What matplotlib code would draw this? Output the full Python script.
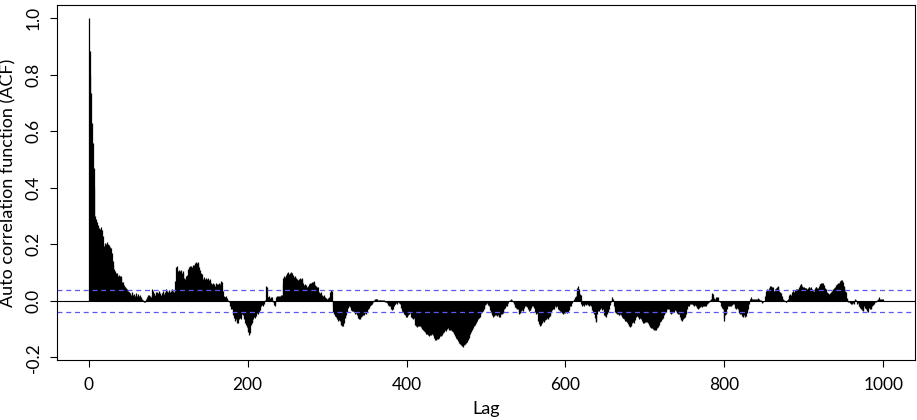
import numpy as np
import matplotlib
matplotlib.use("Agg")
import matplotlib.pyplot as plt

# ACF values, one per lag (0..1000)
acf_vals = [
    1.000, 0.885, 0.800, 0.735, 0.630, 0.560, 0.470, 0.400, 0.300, 0.290, 0.280, 0.262, 0.268, 0.258, 0.255, 0.262, 0.250, 0.252, 0.230, 0.195,
    0.205, 0.198, 0.202, 0.207, 0.200, 0.195, 0.198, 0.190, 0.185, 0.170, 0.140, 0.128, 0.112, 0.104, 0.100, 0.098, 0.092, 0.088, 0.090, 0.086,
    0.088, 0.080, 0.068, 0.066, 0.055, 0.050, 0.048, 0.044, 0.042, 0.034, 0.030, 0.032, 0.028, 0.022, 0.030, 0.026, 0.020, 0.024, 0.018, 0.028,
    0.022, 0.016, 0.025, 0.018, 0.014, 0.020, 0.012, 0.008, 0.004, 0.000, -0.004, -0.006, 0.006, 0.014, 0.020, 0.016, 0.022, 0.018, 0.012, 0.020,
    0.040, 0.036, 0.028, 0.022, 0.030, 0.018, 0.032, 0.026, 0.024, 0.034, 0.028, 0.020, 0.026, 0.036, 0.030, 0.024, 0.032, 0.040, 0.034, 0.026,
    0.032, 0.038, 0.030, 0.028, 0.036, 0.042, 0.034, 0.030, 0.040, 0.070, 0.118, 0.122, 0.106, 0.110, 0.102, 0.104, 0.108, 0.100, 0.106, 0.098,
    0.082, 0.078, 0.086, 0.080, 0.092, 0.112, 0.118, 0.122, 0.115, 0.124, 0.120, 0.126, 0.118, 0.128, 0.132, 0.136, 0.134, 0.137, 0.130, 0.118,
    0.108, 0.100, 0.096, 0.082, 0.078, 0.085, 0.076, 0.080, 0.074, 0.078, 0.082, 0.072, 0.078, 0.070, 0.062, 0.058, 0.064, 0.056, 0.060, 0.054,
    0.062, 0.058, 0.055, 0.060, 0.064, 0.058, 0.066, 0.070, 0.068, 0.035, 0.018, 0.014, 0.012, 0.016, 0.010, 0.004, 0.000, -0.006, -0.020, -0.028,
    -0.030, -0.026, -0.050, -0.062, -0.070, -0.066, -0.072, -0.080, -0.078, -0.064, -0.060, -0.066, -0.052, -0.046, -0.050, -0.058, -0.066, -0.078, -0.084, -0.092,
    -0.104, -0.112, -0.120, -0.115, -0.086, -0.080, -0.074, -0.064, -0.058, -0.062, -0.054, -0.046, -0.042, -0.048, -0.040, -0.034, -0.024, -0.020, -0.016, -0.018,
    -0.010, 0.000, 0.004, 0.053, 0.048, 0.014, 0.012, 0.016, 0.010, 0.014, 0.008, 0.012, -0.005, -0.015, -0.017, -0.010, 0.012, 0.016, 0.018, 0.014,
    0.018, 0.016, 0.020, 0.022, 0.060, 0.080, 0.088, 0.084, 0.092, 0.100, 0.096, 0.102, 0.094, 0.098, 0.100, 0.103, 0.098, 0.092, 0.085, 0.088,
    0.084, 0.080, 0.078, 0.075, 0.078, 0.074, 0.080, 0.076, 0.080, 0.072, 0.064, 0.055, 0.058, 0.052, 0.056, 0.050, 0.054, 0.058, 0.062, 0.060,
    0.064, 0.066, 0.068, 0.070, 0.062, 0.056, 0.054, 0.050, 0.048, 0.032, 0.030, 0.028, 0.030, 0.020, 0.018, 0.016, 0.020, 0.012, 0.008, 0.010,
    0.006, 0.010, 0.012, 0.008, 0.030, 0.037, 0.034, -0.020, -0.040, -0.048, -0.054, -0.058, -0.056, -0.066, -0.070, -0.068, -0.072, -0.082, -0.086, -0.088,
    -0.088, -0.080, -0.062, -0.056, -0.050, -0.040, -0.024, -0.018, -0.016, -0.022, -0.032, -0.035, -0.030, -0.036, -0.040, -0.046, -0.044, -0.048, -0.052, -0.060,
    -0.064, -0.062, -0.064, -0.056, -0.054, -0.050, -0.052, -0.046, -0.044, -0.048, -0.040, -0.030, -0.028, -0.026, -0.020, -0.014, -0.010, -0.008, -0.004, 0.002,
    0.006, 0.007, 0.005, 0.008, 0.003, 0.002, 0.004, 0.003, 0.001, 0.004, 0.002, 0.003, 0.000, -0.004, -0.006, -0.005, -0.008, -0.014, -0.018, -0.020,
    -0.024, -0.030, -0.033, -0.028, -0.020, -0.012, -0.010, -0.008, -0.012, -0.006, -0.008, -0.004, -0.010, -0.024, -0.036, -0.040, -0.038, -0.046, -0.052, -0.057,
    -0.055, -0.057, -0.050, -0.046, -0.044, -0.048, -0.056, -0.062, -0.064, -0.060, -0.072, -0.084, -0.090, -0.093, -0.088, -0.086, -0.090, -0.088, -0.094, -0.098,
    -0.100, -0.104, -0.108, -0.112, -0.117, -0.114, -0.118, -0.120, -0.123, -0.122, -0.118, -0.120, -0.116, -0.122, -0.124, -0.132, -0.138, -0.140, -0.136, -0.134,
    -0.128, -0.130, -0.126, -0.124, -0.120, -0.118, -0.114, -0.110, -0.105, -0.102, -0.106, -0.100, -0.098, -0.102, -0.100, -0.104, -0.105, -0.108, -0.110, -0.106,
    -0.118, -0.126, -0.130, -0.135, -0.134, -0.142, -0.148, -0.152, -0.150, -0.156, -0.160, -0.163, -0.158, -0.152, -0.154, -0.150, -0.146, -0.140, -0.130, -0.123,
    -0.118, -0.110, -0.104, -0.100, -0.096, -0.088, -0.084, -0.080, -0.076, -0.072, -0.064, -0.060, -0.057, -0.050, -0.044, -0.040, -0.036, -0.030, -0.024, -0.016,
    -0.012, -0.008, -0.010, -0.016, -0.020, -0.032, -0.040, -0.048, -0.052, -0.057, -0.055, -0.050, -0.052, -0.048, -0.054, -0.052, -0.056, -0.057, -0.052, -0.046,
    -0.048, -0.044, -0.040, -0.030, -0.024, -0.020, -0.016, -0.018, -0.008, -0.002, 0.001, 0.003, 0.005, 0.002, -0.006, -0.010, -0.016, -0.022, -0.026, -0.028,
    -0.030, -0.040, -0.046, -0.042, -0.035, -0.032, -0.036, -0.033, -0.024, -0.020, -0.018, -0.022, -0.020, -0.030, -0.035, -0.032, -0.034, -0.024, -0.018, -0.020,
    -0.018, -0.026, -0.038, -0.046, -0.044, -0.052, -0.070, -0.082, -0.088, -0.084, -0.075, -0.078, -0.072, -0.075, -0.068, -0.064, -0.066, -0.060, -0.064, -0.058,
    -0.054, -0.052, -0.040, -0.034, -0.028, -0.030, -0.024, -0.020, -0.022, -0.018, -0.020, -0.028, -0.032, -0.035, -0.036, -0.040, -0.044, -0.046, -0.044, -0.042,
    -0.040, -0.038, -0.042, -0.040, -0.032, -0.026, -0.020, -0.018, -0.008, -0.002, 0.000, 0.008, 0.014, 0.017, 0.030, 0.045, 0.053, 0.040, 0.025, 0.022,
    -0.010, -0.018, -0.016, -0.018, -0.012, -0.010, -0.014, -0.012, -0.010, -0.016, -0.018, -0.014, -0.018, -0.026, -0.034, -0.040, -0.048, -0.062, -0.075, -0.070,
    -0.045, -0.036, -0.035, -0.028, -0.030, -0.026, -0.032, -0.028, -0.040, -0.050, -0.054, -0.057, -0.046, -0.038, -0.035, -0.030, -0.016, -0.004, 0.006, 0.012,
    0.008, -0.018, -0.030, -0.040, -0.044, -0.046, -0.046, -0.050, -0.052, -0.048, -0.052, -0.058, -0.062, -0.060, -0.064, -0.070, -0.072, -0.075, -0.074, -0.082,
    -0.088, -0.093, -0.090, -0.084, -0.080, -0.076, -0.080, -0.068, -0.060, -0.057, -0.055, -0.058, -0.062, -0.064, -0.060, -0.064, -0.070, -0.076, -0.078, -0.080,
    -0.076, -0.072, -0.075, -0.074, -0.078, -0.086, -0.090, -0.093, -0.096, -0.098, -0.100, -0.100, -0.104, -0.105, -0.103, -0.096, -0.092, -0.088, -0.084, -0.076,
    -0.070, -0.066, -0.064, -0.060, -0.052, -0.044, -0.040, -0.034, -0.030, -0.028, -0.030, -0.036, -0.042, -0.046, -0.044, -0.040, -0.035, -0.038, -0.034, -0.036,
    -0.040, -0.044, -0.046, -0.048, -0.056, -0.064, -0.068, -0.070, -0.066, -0.060, -0.057, -0.054, -0.048, -0.030, -0.020, -0.018, -0.014, -0.012, -0.010, -0.012,
    -0.012, -0.014, -0.018, -0.016, -0.018, -0.022, -0.026, -0.028, -0.026, -0.022, -0.020, -0.018, -0.022, -0.020, -0.016, -0.020, -0.018, -0.020, -0.012, -0.008,
    -0.005, -0.004, 0.002, 0.005, 0.018, 0.028, 0.024, 0.010, 0.006, 0.008, 0.014, 0.015, 0.012, -0.002, -0.005, -0.006, -0.018, -0.024, -0.028, -0.060,
    -0.070, -0.052, -0.046, -0.030, -0.018, -0.016, -0.018, -0.020, -0.018, -0.012, -0.014, -0.010, -0.012, -0.020, -0.024, -0.028, -0.026, -0.030, -0.038, -0.042,
    -0.046, -0.048, -0.054, -0.057, -0.055, -0.052, -0.056, -0.054, -0.044, -0.035, -0.030, -0.010, 0.008, 0.012, 0.010, 0.007, 0.006, 0.008, 0.004, 0.007,
    0.006, 0.008, 0.005, 0.009, 0.006, 0.004, 0.002, -0.004, -0.008, -0.006, 0.000, 0.018, 0.025, 0.034, 0.040, 0.038, 0.046, 0.050, 0.053, 0.052,
    0.050, 0.048, 0.034, 0.030, 0.040, 0.046, 0.050, 0.052, 0.048, 0.034, 0.030, 0.028, 0.018, 0.010, 0.005, 0.004, -0.002, -0.005, -0.004, 0.004,
    0.006, 0.014, 0.020, 0.025, 0.022, 0.030, 0.034, 0.035, 0.032, 0.038, 0.040, 0.036, 0.042, 0.040, 0.050, 0.056, 0.060, 0.058, 0.052, 0.050,
    0.048, 0.046, 0.044, 0.046, 0.042, 0.046, 0.048, 0.050, 0.046, 0.050, 0.040, 0.036, 0.035, 0.034, 0.044, 0.050, 0.048, 0.045, 0.044, 0.052,
    0.058, 0.060, 0.062, 0.064, 0.062, 0.056, 0.050, 0.046, 0.040, 0.030, 0.026, 0.025, 0.024, 0.028, 0.032, 0.035, 0.034, 0.040, 0.046, 0.050,
    0.053, 0.056, 0.060, 0.064, 0.062, 0.066, 0.070, 0.074, 0.072, 0.068, 0.052, 0.048, 0.036, 0.030, 0.010, 0.006, -0.004, -0.005, -0.008, -0.010,
    -0.008, -0.010, -0.009, -0.012, 0.004, 0.005, 0.002, -0.010, -0.008, -0.018, -0.020, -0.026, -0.028, -0.034, -0.032, -0.035, -0.020, -0.026, -0.028, -0.026,
    -0.036, -0.040, -0.025, -0.028, -0.026, -0.028, -0.018, -0.016, -0.010, -0.008, -0.004, -0.003, 0.002, 0.005, 0.004, 0.012, 0.008, 0.007, 0.005, 0.004,
    0.005,
]
conf_limit = 0.039
x_ticks = [0, 200, 400, 600, 800, 1000]
y_ticks = [-0.2, 0.0, 0.2, 0.4, 0.6, 0.8, 1.0]

plt.rcParams['font.family'] = ['Lato', 'DejaVu Sans']

acf = np.array(acf_vals)
lags = np.arange(len(acf))

fig = plt.figure(figsize=(9.17, 4.2), dpi=100)
ax = fig.add_axes([57 / 917, 60 / 420, 858 / 917, 355 / 420])

# R style acf plot: one vertical line per lag
ax.vlines(lags, 0, acf, color="black", linewidth=0.9)
ax.axhline(0, color="black", linewidth=0.8)
for c in (conf_limit, -conf_limit):
    ax.axhline(c, color="#5a5af0", linewidth=0.9, linestyle=(0, (4, 3)))

lo = min(acf.min(), -conf_limit)
hi = max(acf.max(), conf_limit)
pad = 0.04 * (hi - lo)
ax.set_ylim(lo - pad, hi + pad)
ax.set_xlim(-0.04 * 1000, 1.04 * 1000)

ax.set_xticks(x_ticks)
ax.set_yticks(y_ticks)
ax.set_yticklabels(["-0.2", "0.0", "0.2", "0.4", "0.6", "0.8", "1.0"], rotation=90, va="center")
ax.tick_params(axis="both", labelsize=12.5, length=5, width=0.8, color="black")
ax.tick_params(axis="x", pad=7)
ax.tick_params(axis="y", pad=6)

ax.set_xlabel("Lag", fontsize=13, labelpad=6)
ax.set_ylabel("Auto correlation function (ACF)", fontsize=13, labelpad=7)

for s in ax.spines.values():
    s.set_linewidth(0.8)

fig.savefig("out.png", dpi=100)
